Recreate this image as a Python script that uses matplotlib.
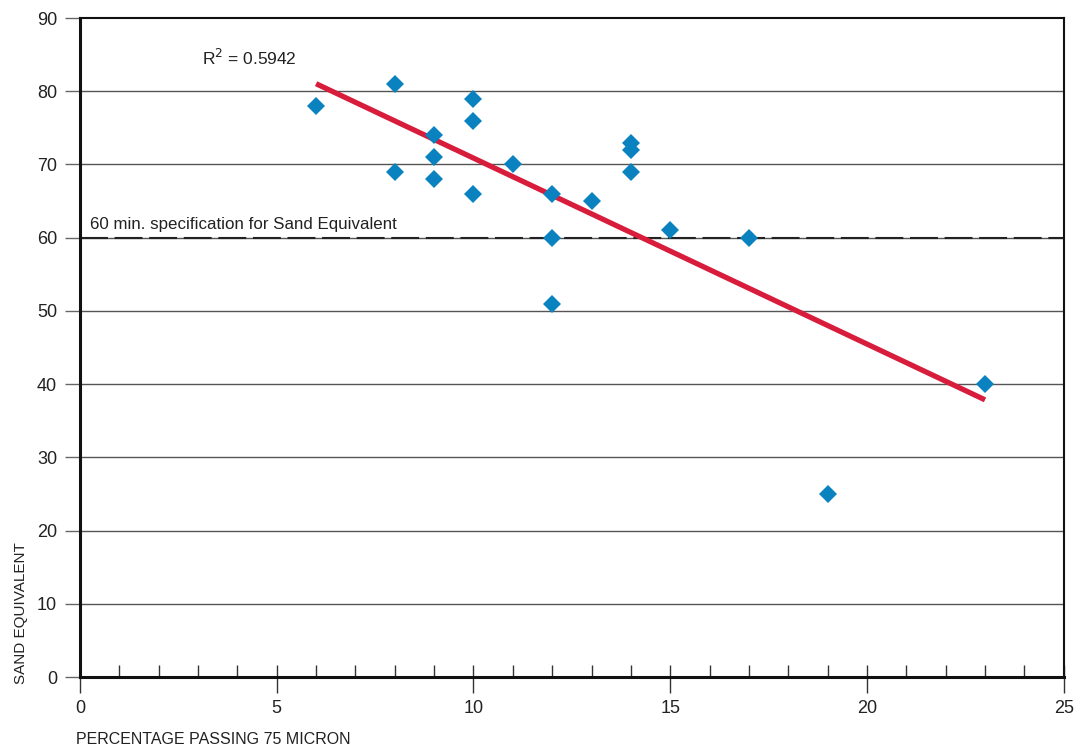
import numpy as np
import matplotlib
matplotlib.use('Agg')
from matplotlib import pyplot as plt
from matplotlib.ticker import MultipleLocator

plt.rcParams['font.family'] = ['Liberation Sans Narrow', 'Liberation Sans', 'DejaVu Sans']

# Percentage passing 75 micron vs sand equivalent
passing = [6, 8, 8, 9, 9, 9, 10, 10, 10, 11, 12, 12, 12, 13, 14, 14, 14, 15, 17, 19, 23]
sand_eq = [78, 81, 69, 74, 71, 68, 79, 76, 66, 70, 66, 60, 51, 65, 73, 72, 69, 61, 60, 25, 40]
spec_min = 60
r2_label = 'R$^2$ = 0.5942'
spec_label = '60 min. specification for Sand Equivalent'

fig = plt.figure(figsize=(10.81, 7.51), dpi=100)
ax = fig.add_axes([0.074, 0.0985, 0.910, 0.8775])

ax.set_xlim(0, 25)
ax.set_ylim(0, 90)

# horizontal grid
for yv in range(10, 90, 10):
    ax.axhline(yv, color='#555555', lw=1.0, zorder=1)

# spec line
ax.axhline(spec_min, color='#222222', lw=1.5, dashes=(13.4, 3.2), zorder=2)
ax.text(0.25, spec_min + 1.2, spec_label, fontsize=12.2, color='#222222',
        va='baseline', ha='left')

# fit line
x = np.array(passing, dtype=float)
y = np.array(sand_eq, dtype=float)
slope, icpt = np.polyfit(x, y, 1)
xf = np.array([x.min(), x.max()])
ax.plot(xf, slope * xf + icpt, color='#d81c3c', lw=3.8, solid_capstyle='butt', zorder=3)

ax.plot(x, y, 'D', color='#0a82c0', markersize=9, markeredgewidth=0, zorder=4)

ax.text(3.1, 83.6, r2_label, fontsize=12.5, color='#222222', ha='left', va='baseline')

# ticks
ax.xaxis.set_major_locator(MultipleLocator(5))
ax.xaxis.set_minor_locator(MultipleLocator(1))
ax.xaxis.remove_overlapping_locs = False
ax.yaxis.set_major_locator(MultipleLocator(10))
ax.tick_params(axis='x', which='major', direction='out', length=11.5, width=1.0,
               color='#333333', labelsize=13, pad=5, labelcolor='#222222')
ax.tick_params(axis='x', which='minor', direction='in', length=8.6, width=1.0, color='#333333')
ax.tick_params(axis='y', which='major', direction='out', length=11, width=1.0,
               color='#666666', labelsize=13, pad=5.5, labelcolor='#222222')

for s in ['left', 'bottom']:
    ax.spines[s].set_linewidth(2.2)
for s in ['top', 'right']:
    ax.spines[s].set_linewidth(1.5)
for s in ax.spines.values():
    s.set_color('#111111')

ax.set_xlabel('PERCENTAGE PASSING 75 MICRON', fontsize=11.5, color='#222222')
ax.xaxis.set_label_coords(-0.004, -0.083)
ax.xaxis.label.set_ha('left')
ax.set_ylabel('SAND EQUIVALENT', fontsize=11, color='#222222')
ax.yaxis.set_label_coords(-0.06, -0.01)
ax.yaxis.label.set_va('center')
ax.yaxis.label.set_ha('left')

fig.savefig('out.png', dpi=100)
